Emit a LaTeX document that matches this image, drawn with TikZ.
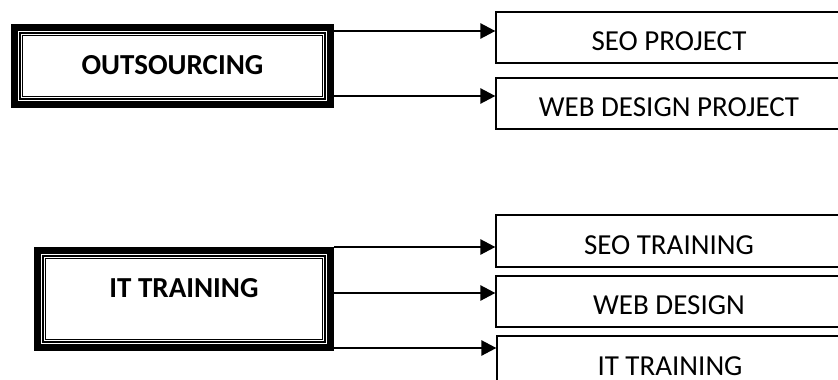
\documentclass[tikz,border=0pt]{standalone}
\usepackage{fontspec}
\setmainfont{Carlito}
\usetikzlibrary{arrows.meta}
\newcommand\dblframe[1]{%
  \draw[line width=7.5pt] ([shift={(3.75,3.75)}]#1.north west) rectangle ([shift={(-3.75,-3.75)}]#1.south east);
  \draw[line width=1.1pt] ([shift={(9.2,9.2)}]#1.north west) rectangle ([shift={(-9.2,-9.2)}]#1.south east);
  \draw[line width=1.1pt] ([shift={(11.3,11.3)}]#1.north west) rectangle ([shift={(-11.3,-11.3)}]#1.south east);
}
\begin{document}
\begin{tikzpicture}[x=1pt,y=-1pt,font=\fontsize{29}{34}\selectfont,
  rbox/.style={draw,line width=1.2pt,inner sep=0pt,minimum width=346pt,minimum height=51pt,text height=26pt,text depth=0pt},
  lbox/.style={inner sep=0pt,font=\fontsize{29}{34}\selectfont\bfseries},
  arr/.style={line width=2.5pt,-{Triangle[length=15pt,width=15pt]}}]
\useasboundingbox (0,0) rectangle (838,380);
\clip (0,0) rectangle (838,380);
% left boxes
\node[lbox,minimum width=323pt,minimum height=84pt,text height=16pt,text depth=0pt] (out) at (172.5,66) {OUTSOURCING};
\dblframe{out}
\node[lbox,minimum width=300pt,minimum height=104pt,text height=16pt,text depth=20pt] (itt) at (184,299) {IT TRAINING};
\dblframe{itt}
% right boxes
\node[rbox] (seop) at (669,37.5) {SEO PROJECT};
\node[rbox] (webp) at (669,103.5) {WEB DESIGN PROJECT};
\node[rbox,minimum height=52pt] (seot) at (669,241) {SEO TRAINING};
\node[rbox] (webd) at (669,301.5) {WEB DESIGN};
\node[rbox,minimum height=52pt] (ittr) at (670,362) {IT TRAINING};
% arrows
\draw[arr] (out.east |- 0,31) -- (seop.west |- 0,31);
\draw[arr] (out.east |- 0,96) -- (webp.west |- 0,96);
\draw[arr] (itt.east |- 0,247) -- (seot.west |- 0,247);
\draw[arr] (itt.east |- 0,293) -- (webd.west |- 0,293);
\draw[arr] (itt.east |- 0,348) -- (ittr.west |- 0,348);
\end{tikzpicture}
\end{document}
